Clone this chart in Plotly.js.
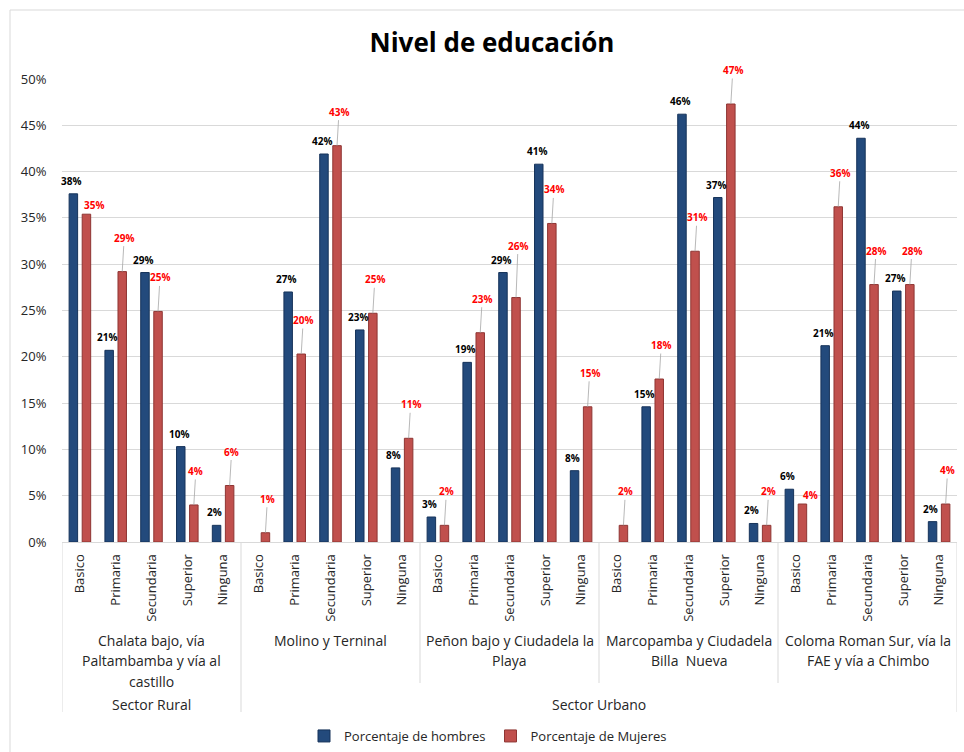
<!DOCTYPE html>
<html>
<head>
<meta charset="utf-8">
<script src="https://cdn.plot.ly/plotly-3.0.1.min.js"></script>
<style>
  html, body { margin: 0; padding: 0; background: #ffffff; }
  #chart { width: 964px; height: 752px; }
</style>
</head>
<body>
<div id="chart"></div>
<script>
// Education levels, repeated within every locality
const levels = ['Basico', 'Primaria', 'Secundaria', 'Superior', 'Ninguna'];

// Localities (line breaks as shown under the axis)
const localities = [
  'Chalata bajo, vía\nPaltambamba y vía al\ncastillo',
  'Molino y Terninal',
  'Peñon bajo y Ciudadela la\nPlaya',
  'Marcopamba y Ciudadela\nBilla  Nueva',
  'Coloma Roman Sur, vía la\nFAE y vía a Chimbo'
];

// Sector names and the sector each locality belongs to
const sectors = ['Sector Rural', 'Sector Urbano'];
const localitySector = [0, 1, 1, 1, 1];

// Percentages per locality, in the order of `levels` (null = no bar)
const hombres = [
  37.6, 20.7, 29.1, 10.3, 1.8,
  null, 27.0, 41.9, 22.9, 8.0,
  2.7, 19.4, 29.1, 40.8, 7.7,
  null, 14.6, 46.2, 37.2, 2.0,
  5.7, 21.2, 43.6, 27.1, 2.2
];
const mujeres = [
  35.4, 29.2, 24.9, 4.0, 6.1,
  1.0, 20.3, 42.8, 24.7, 11.2,
  1.8, 22.6, 26.4, 34.4, 14.6,
  1.8, 17.6, 31.4, 47.3, 1.8,
  4.1, 36.2, 27.8, 27.8, 4.1
];

const seriesNames = ['Porcentaje de hombres', 'Porcentaje de Mujeres'];

// ---- derived positions on a numeric category axis ----
const nLev = levels.length;
const xs = [];
const tickText = [];
localities.forEach((_, g) => levels.forEach((lv, k) => { xs.push(g * nLev + k); tickText.push(lv); }));

const FONT = 'Open Sans, Liberation Sans, sans-serif';
const BLUE = '#234a7c', BLUE_EDGE = '#16335a';
const RED = '#c0504d', RED_EDGE = '#8e3533';

// plot area geometry (px) used to place the hierarchical labels below the axis
const PLOT_TOP = 79, PLOT_BOTTOM = 542, PLOT_LEFT = 62, PLOT_RIGHT = 957;
const PH = PLOT_BOTTOM - PLOT_TOP, PW = PLOT_RIGHT - PLOT_LEFT;
const py = px => (PLOT_BOTTOM - px) / PH;
const pxX = px => (px - PLOT_LEFT) / PW;
const pxPerPct = PH / 50;

const toFrac = arr => arr.map(v => v == null ? null : v / 100);

const traces = [
  {
    type: 'bar', name: seriesNames[0], x: xs, y: toFrac(hombres),
    marker: { color: BLUE, line: { color: BLUE_EDGE, width: 1 } },
    hoverinfo: 'skip'
  },
  {
    type: 'bar', name: seriesNames[1], x: xs, y: toFrac(mujeres),
    marker: { color: RED, line: { color: RED_EDGE, width: 1 } },
    hoverinfo: 'skip'
  }
];

// bar group geometry (fraction of a category slot)
const BARGAP = 0.27, GROUPGAP = 0.35;
const slot = (1 - BARGAP) / 2;

const annotations = [];
const LABEL_FONT = { family: FONT, size: 10, weight: 'bold' };
const MEN_LIFT = 13, WOMEN_LIFT = 34;

// value labels: men in black just above the bar
hombres.forEach((v, i) => {
  if (v == null) return;
  annotations.push({
    x: xs[i] - slot / 2, y: v / 100, xref: 'x', yref: 'y',
    text: Math.round(v) + '%', showarrow: false, yshift: MEN_LIFT, xshift: -2,
    font: Object.assign({ color: '#000000' }, LABEL_FONT)
  });
});

// women in red on a leader line; moved aside or lifted when it would hit the men's label
mujeres.forEach((v, i) => {
  if (v == null) return;
  const base = {
    x: xs[i] + slot / 2, y: v / 100, xref: 'x', yref: 'y',
    text: Math.round(v) + '%',
    font: Object.assign({ color: '#ff0000' }, LABEL_FONT)
  };
  const h = hombres[i];
  let ay = -WOMEN_LIFT;
  let beside = false;
  if (h != null) {
    const menLabel = MEN_LIFT + (h - v) * pxPerPct;     // px above the red bar top
    if (Math.abs(menLabel - WOMEN_LIFT) < 11) {
      if (h - v < 2.5) beside = true;
      else ay = -(menLabel + 14);
    }
  }
  if (beside) {
    annotations.push(Object.assign(base, { showarrow: false, xshift: 8, yshift: 9 }));
  } else {
    annotations.push(Object.assign(base, {
      showarrow: true, arrowhead: 0, arrowwidth: 0.8, arrowcolor: '#a6a6a6',
      standoff: 0, ax: 2, ay: ay
    }));
  }
});

// locality labels, one annotation per line
localities.forEach((name, g) => {
  name.split('\n').forEach((line, j) => {
    annotations.push({
      x: g * nLev + (nLev - 1) / 2, y: py(640 + 20.5 * j), xref: 'x', yref: 'paper',
      text: line, showarrow: false, yanchor: 'middle',
      font: { family: FONT, size: 14, color: '#262626' }
    });
  });
});

// sector labels centred under their localities
sectors.forEach((s, si) => {
  const members = localitySector.map((v, g) => v === si ? g : -1).filter(g => g >= 0);
  const first = members[0] * nLev - 0.5;
  const last = (members[members.length - 1] + 1) * nLev - 0.5;
  annotations.push({
    x: (first + last) / 2, y: py(704), xref: 'x', yref: 'paper',
    text: s, showarrow: false, yanchor: 'middle',
    font: { family: FONT, size: 14, color: '#262626' }
  });
});

// divider lines between localities; longer where a sector boundary falls
const shapes = [];
for (let g = 0; g <= localities.length; g++) {
  const isSectorEdge = g === 0 || g === localities.length ||
    localitySector[g] !== localitySector[g - 1];
  shapes.push({
    type: 'line', xref: 'x', yref: 'paper',
    x0: g * nLev - 0.5, x1: g * nLev - 0.5,
    y0: 0, y1: py(isSectorEdge ? 712 : 683),
    line: { color: '#d9d9d9', width: 1 }
  });
}
// chart frame
shapes.push({
  type: 'rect', xref: 'paper', yref: 'paper',
  x0: pxX(10), x1: pxX(975), y0: py(770), y1: py(10),
  line: { color: '#d9d9d9', width: 1 }, fillcolor: 'rgba(0,0,0,0)', layer: 'below'
});

const layout = {
  width: 964, height: 752,
  margin: { l: PLOT_LEFT, r: 964 - PLOT_RIGHT, t: PLOT_TOP, b: 752 - PLOT_BOTTOM, autoexpand: false },
  paper_bgcolor: '#ffffff', plot_bgcolor: '#ffffff',
  font: { family: FONT, size: 13, color: '#262626' },
  title: {
    text: 'Nivel de educación',
    font: { family: FONT, size: 26, color: '#000000', weight: 'bold' },
    xref: 'paper', x: pxX(492), xanchor: 'center',
    yref: 'container', y: 1 - 43 / 752, yanchor: 'middle'
  },
  barmode: 'group', bargap: BARGAP, bargroupgap: GROUPGAP,
  xaxis: {
    type: 'linear', range: [-0.5, xs.length - 0.5], automargin: false,
    tickmode: 'array', tickvals: xs, ticktext: tickText, tickangle: -90,
    ticks: 'outside', ticklen: 6, tickcolor: 'rgba(0,0,0,0)',
    tickfont: { family: FONT, size: 13, color: '#262626' },
    showgrid: false, zeroline: false,
    showline: true, linecolor: '#d9d9d9', linewidth: 1
  },
  yaxis: {
    range: [0, 0.5], dtick: 0.05, tickformat: '.0%', automargin: false,
    ticks: 'outside', ticklen: 12, tickcolor: 'rgba(0,0,0,0)',
    tickfont: { family: FONT, size: 13, color: '#262626' },
    showgrid: true, gridcolor: '#d9d9d9', gridwidth: 1,
    zeroline: false, showline: false
  },
  legend: {
    orientation: 'h', xref: 'paper', x: pxX(488), xanchor: 'center',
    yref: 'paper', y: py(736), yanchor: 'middle',
    font: { family: FONT, size: 13, color: '#262626' },
    bgcolor: 'rgba(0,0,0,0)'
  },
  showlegend: true,
  hovermode: false,
  annotations: annotations,
  shapes: shapes
};

Plotly.newPlot('chart', traces, layout, { displayModeBar: false, staticPlot: true });
</script>
</body>
</html>
